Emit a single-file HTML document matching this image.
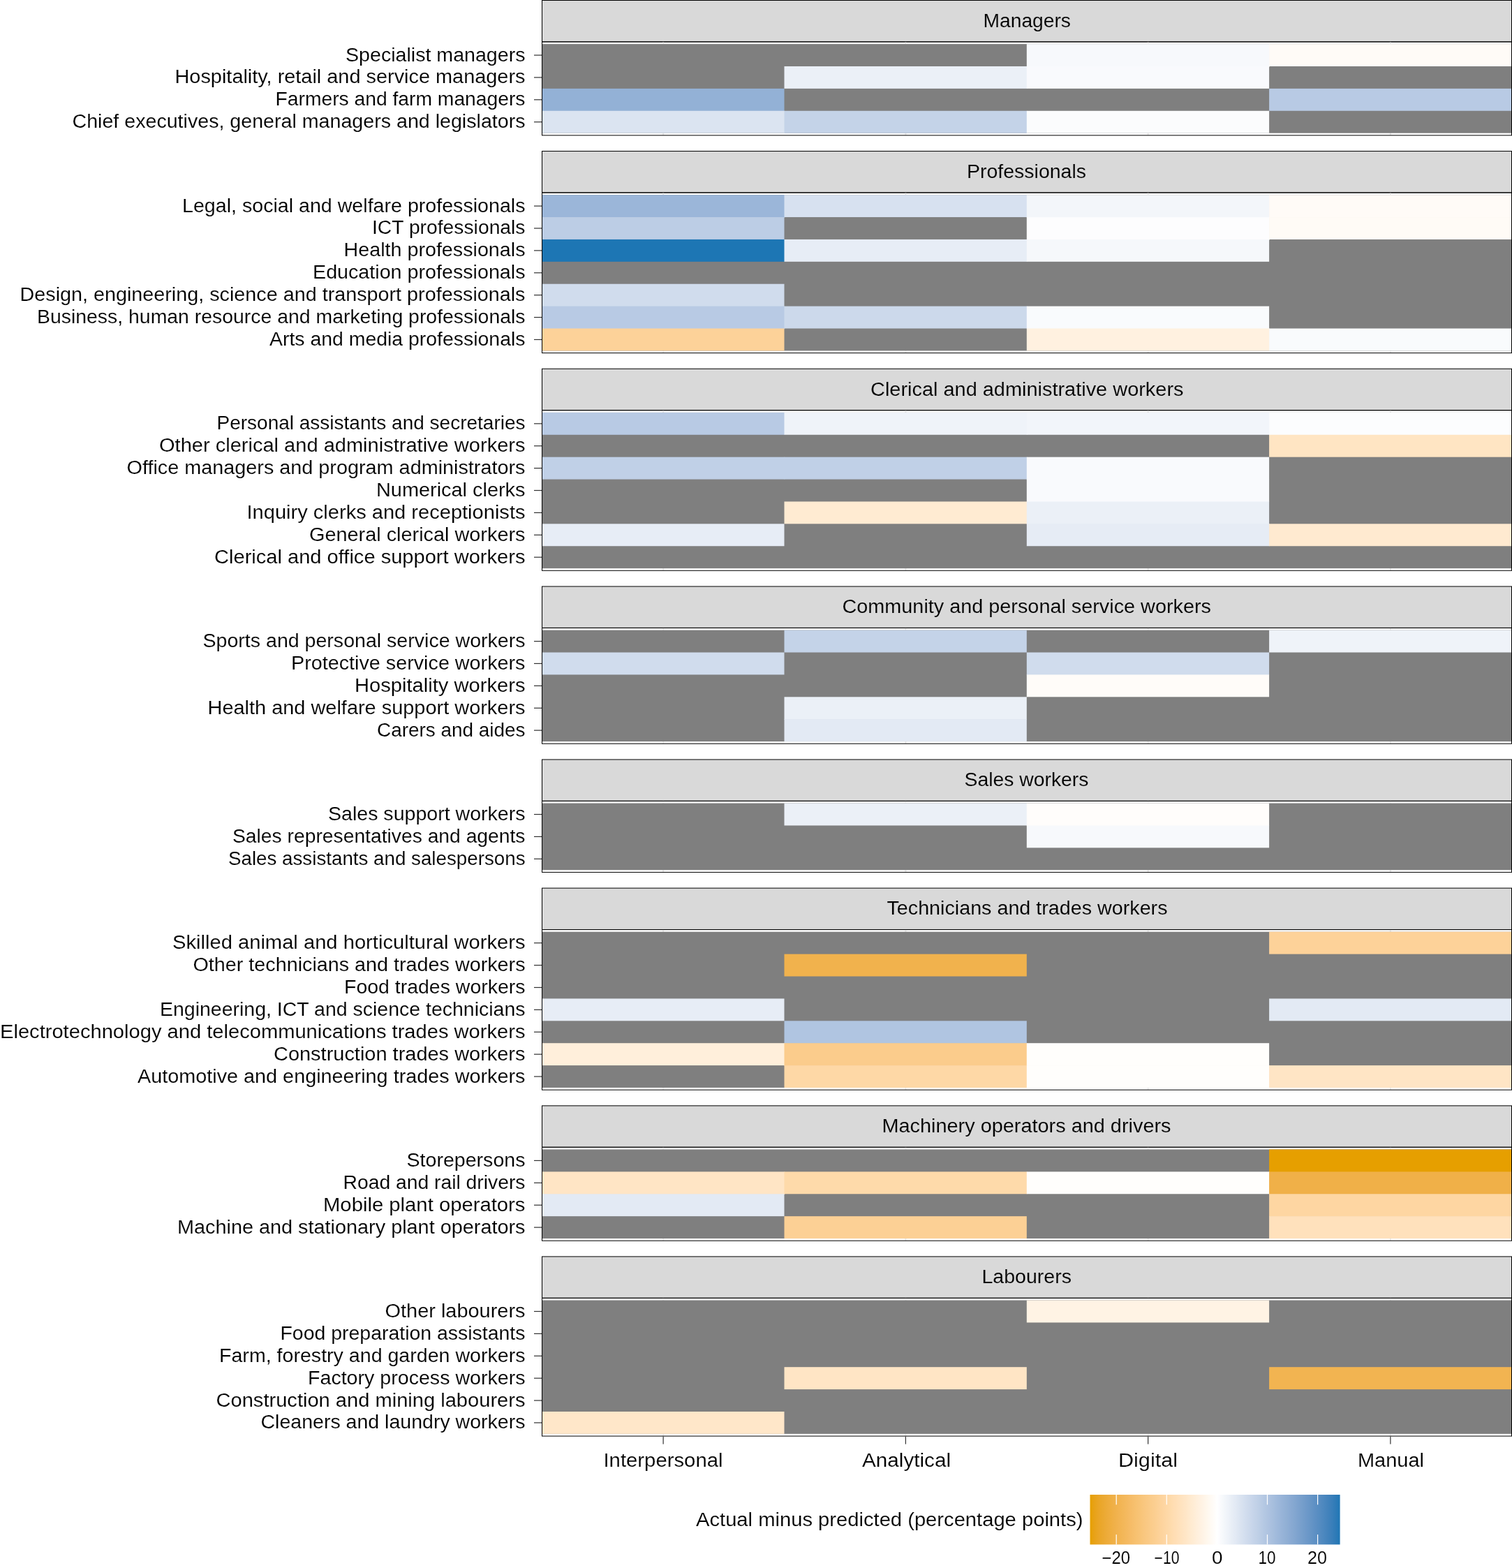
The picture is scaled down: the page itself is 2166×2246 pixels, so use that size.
<!DOCTYPE html>
<html lang="en"><head><meta charset="utf-8"><title>Actual minus predicted by occupation</title>
<style>html,body{margin:0;padding:0;background:#fff}body{width:2166px;height:2246px;overflow:hidden}svg{display:block}
text{font-family:"Liberation Sans",sans-serif;fill:#000}
</style></head><body>
<svg width="2166" height="2246" viewBox="0 0 2166 2246">
<defs><linearGradient id="g" x1="0" x2="1" y1="0" y2="0">
<stop offset="0.0000" stop-color="#E69F01"/>
<stop offset="0.0167" stop-color="#E8A217"/>
<stop offset="0.0333" stop-color="#EAA525"/>
<stop offset="0.0500" stop-color="#EBA82F"/>
<stop offset="0.0667" stop-color="#EDAB39"/>
<stop offset="0.0833" stop-color="#EFAE41"/>
<stop offset="0.1000" stop-color="#F0B14A"/>
<stop offset="0.1167" stop-color="#F2B452"/>
<stop offset="0.1333" stop-color="#F3B759"/>
<stop offset="0.1500" stop-color="#F5BA61"/>
<stop offset="0.1667" stop-color="#F6BD69"/>
<stop offset="0.1833" stop-color="#F7C170"/>
<stop offset="0.2000" stop-color="#F8C477"/>
<stop offset="0.2167" stop-color="#F9C77F"/>
<stop offset="0.2333" stop-color="#FACA86"/>
<stop offset="0.2500" stop-color="#FBCD8D"/>
<stop offset="0.2667" stop-color="#FCD094"/>
<stop offset="0.2833" stop-color="#FDD39C"/>
<stop offset="0.3000" stop-color="#FED6A3"/>
<stop offset="0.3167" stop-color="#FEDAAA"/>
<stop offset="0.3333" stop-color="#FFDDB2"/>
<stop offset="0.3500" stop-color="#FFE0B9"/>
<stop offset="0.3667" stop-color="#FFE3C0"/>
<stop offset="0.3833" stop-color="#FFE6C7"/>
<stop offset="0.4000" stop-color="#FFEACF"/>
<stop offset="0.4167" stop-color="#FFEDD6"/>
<stop offset="0.4333" stop-color="#FFF0DE"/>
<stop offset="0.4500" stop-color="#FFF3E5"/>
<stop offset="0.4667" stop-color="#FFF7EC"/>
<stop offset="0.4833" stop-color="#FFFAF4"/>
<stop offset="0.5000" stop-color="#FFFDFB"/>
<stop offset="0.5082" stop-color="#FFFFFF"/>
<stop offset="0.5167" stop-color="#FCFCFE"/>
<stop offset="0.5333" stop-color="#F5F8FB"/>
<stop offset="0.5500" stop-color="#EFF3F9"/>
<stop offset="0.5667" stop-color="#E8EEF6"/>
<stop offset="0.5833" stop-color="#E2E9F4"/>
<stop offset="0.6000" stop-color="#DBE4F1"/>
<stop offset="0.6167" stop-color="#D4DFEF"/>
<stop offset="0.6333" stop-color="#CEDAEC"/>
<stop offset="0.6500" stop-color="#C7D5EA"/>
<stop offset="0.6667" stop-color="#C1D1E7"/>
<stop offset="0.6833" stop-color="#BACCE5"/>
<stop offset="0.7000" stop-color="#B3C7E2"/>
<stop offset="0.7167" stop-color="#ADC2E0"/>
<stop offset="0.7333" stop-color="#A6BEDD"/>
<stop offset="0.7500" stop-color="#9FB9DB"/>
<stop offset="0.7667" stop-color="#98B4D8"/>
<stop offset="0.7833" stop-color="#92B0D5"/>
<stop offset="0.8000" stop-color="#8BABD3"/>
<stop offset="0.8167" stop-color="#84A7D0"/>
<stop offset="0.8333" stop-color="#7DA2CE"/>
<stop offset="0.8500" stop-color="#759ECB"/>
<stop offset="0.8667" stop-color="#6E99C9"/>
<stop offset="0.8833" stop-color="#6695C6"/>
<stop offset="0.9000" stop-color="#5E90C4"/>
<stop offset="0.9167" stop-color="#568CC1"/>
<stop offset="0.9333" stop-color="#4D88BF"/>
<stop offset="0.9500" stop-color="#4483BC"/>
<stop offset="0.9667" stop-color="#3A7FBA"/>
<stop offset="0.9833" stop-color="#2E7BB7"/>
<stop offset="1.0000" stop-color="#1E76B5"/>
</linearGradient></defs>
<rect x="0" y="0" width="2166" height="2246" fill="#fff"/>
<rect x="776.50" y="0.50" width="1389.00" height="59.40" fill="#D9D9D9" stroke="#000" stroke-width="1"/>
<text x="1408.50" y="38.80" font-size="27.00" textLength="125.50" lengthAdjust="spacingAndGlyphs" stroke="#D9D9D9" stroke-width="0.12">Managers</text>
<rect x="949.02" y="59.90" width="2.2" height="133.96" fill="#EBEBEB"/>
<rect x="1296.28" y="59.90" width="2.2" height="133.96" fill="#EBEBEB"/>
<rect x="1643.53" y="59.90" width="2.2" height="133.96" fill="#EBEBEB"/>
<rect x="1990.78" y="59.90" width="2.2" height="133.96" fill="#EBEBEB"/>
<g>
<rect x="776.20" y="63.10" width="1389.20" height="127.56" fill="#7F7F7F"/>
<rect x="1470.80" y="63.10" width="348.00" height="32.59" fill="#F7F9FC"/>
<rect x="1818.10" y="63.10" width="347.30" height="31.89" fill="#FFFBF7"/>
<rect x="1123.50" y="94.99" width="348.00" height="31.89" fill="#EBF0F7"/>
<rect x="1470.80" y="94.99" width="347.30" height="31.89" fill="#F9FAFD"/>
<rect x="776.20" y="126.88" width="347.30" height="32.59" fill="#93B1D6"/>
<rect x="1818.10" y="126.88" width="347.30" height="31.89" fill="#B8CAE4"/>
<rect x="776.20" y="158.77" width="348.00" height="31.89" fill="#DBE4F1"/>
<rect x="1123.50" y="158.77" width="348.00" height="31.89" fill="#C4D3E8"/>
<rect x="1470.80" y="158.77" width="347.30" height="31.89" fill="#FBFCFD"/>
</g>
<rect x="776.50" y="59.90" width="1389.00" height="133.96" fill="none" stroke="#000" stroke-width="1"/>
<rect x="765.00" y="78.45" width="11.00" height="1.2" fill="#333"/>
<text x="495.00" y="87.55" font-size="27.00" textLength="257.50" lengthAdjust="spacingAndGlyphs" stroke="#fff" stroke-width="0.12">Specialist managers</text>
<rect x="765.00" y="110.34" width="11.00" height="1.2" fill="#333"/>
<text x="250.50" y="119.44" font-size="27.00" textLength="502.00" lengthAdjust="spacingAndGlyphs" stroke="#fff" stroke-width="0.12">Hospitality, retail and service managers</text>
<rect x="765.00" y="142.22" width="11.00" height="1.2" fill="#333"/>
<text x="394.50" y="151.32" font-size="27.00" textLength="358.00" lengthAdjust="spacingAndGlyphs" stroke="#fff" stroke-width="0.12">Farmers and farm managers</text>
<rect x="765.00" y="174.12" width="11.00" height="1.2" fill="#333"/>
<text x="103.50" y="183.22" font-size="27.00" textLength="649.00" lengthAdjust="spacingAndGlyphs" stroke="#fff" stroke-width="0.12">Chief executives, general managers and legislators</text>
<rect x="776.50" y="216.56" width="1389.00" height="59.40" fill="#D9D9D9" stroke="#000" stroke-width="1"/>
<text x="1384.99" y="254.86" font-size="27.00" textLength="171.01" lengthAdjust="spacingAndGlyphs" stroke="#D9D9D9" stroke-width="0.12">Professionals</text>
<rect x="949.02" y="275.96" width="2.2" height="229.63" fill="#EBEBEB"/>
<rect x="1296.28" y="275.96" width="2.2" height="229.63" fill="#EBEBEB"/>
<rect x="1643.53" y="275.96" width="2.2" height="229.63" fill="#EBEBEB"/>
<rect x="1990.78" y="275.96" width="2.2" height="229.63" fill="#EBEBEB"/>
<g>
<rect x="776.20" y="279.16" width="1389.20" height="223.23" fill="#7F7F7F"/>
<rect x="776.20" y="279.16" width="348.00" height="32.59" fill="#9BB6D9"/>
<rect x="1123.50" y="279.16" width="348.00" height="31.89" fill="#D7E1F0"/>
<rect x="1470.80" y="279.16" width="348.00" height="32.59" fill="#F3F6FA"/>
<rect x="1818.10" y="279.16" width="347.30" height="32.59" fill="#FFFBF7"/>
<rect x="776.20" y="311.05" width="347.30" height="32.59" fill="#BCCDE5"/>
<rect x="1470.80" y="311.05" width="348.00" height="32.59" fill="#FDFDFE"/>
<rect x="1818.10" y="311.05" width="347.30" height="31.89" fill="#FFFBF6"/>
<rect x="776.20" y="342.94" width="348.00" height="31.89" fill="#1D76B4"/>
<rect x="1123.50" y="342.94" width="348.00" height="31.89" fill="#E7EDF6"/>
<rect x="1470.80" y="342.94" width="347.30" height="31.89" fill="#F6F8FB"/>
<rect x="776.20" y="406.72" width="347.30" height="32.59" fill="#D0DCED"/>
<rect x="776.20" y="438.61" width="348.00" height="32.59" fill="#B8CAE4"/>
<rect x="1123.50" y="438.61" width="348.00" height="31.89" fill="#CCD9EB"/>
<rect x="1470.80" y="438.61" width="347.30" height="32.59" fill="#F9FBFD"/>
<rect x="776.20" y="470.50" width="347.30" height="31.89" fill="#FDD299"/>
<rect x="1470.80" y="470.50" width="348.00" height="31.89" fill="#FFF1E0"/>
<rect x="1818.10" y="470.50" width="347.30" height="31.89" fill="#F9FBFD"/>
</g>
<rect x="776.50" y="275.96" width="1389.00" height="229.63" fill="none" stroke="#000" stroke-width="1"/>
<rect x="765.00" y="294.50" width="11.00" height="1.2" fill="#333"/>
<text x="261.00" y="303.60" font-size="27.00" textLength="491.50" lengthAdjust="spacingAndGlyphs" stroke="#fff" stroke-width="0.12">Legal, social and welfare professionals</text>
<rect x="765.00" y="326.39" width="11.00" height="1.2" fill="#333"/>
<text x="533.00" y="335.49" font-size="27.00" textLength="219.50" lengthAdjust="spacingAndGlyphs" stroke="#fff" stroke-width="0.12">ICT professionals</text>
<rect x="765.00" y="358.28" width="11.00" height="1.2" fill="#333"/>
<text x="492.50" y="367.38" font-size="27.00" textLength="260.00" lengthAdjust="spacingAndGlyphs" stroke="#fff" stroke-width="0.12">Health professionals</text>
<rect x="765.00" y="390.17" width="11.00" height="1.2" fill="#333"/>
<text x="448.00" y="399.27" font-size="27.00" textLength="304.50" lengthAdjust="spacingAndGlyphs" stroke="#fff" stroke-width="0.12">Education professionals</text>
<rect x="765.00" y="422.06" width="11.00" height="1.2" fill="#333"/>
<text x="28.50" y="431.16" font-size="27.00" textLength="724.00" lengthAdjust="spacingAndGlyphs" stroke="#fff" stroke-width="0.12">Design, engineering, science and transport professionals</text>
<rect x="765.00" y="453.95" width="11.00" height="1.2" fill="#333"/>
<text x="53.00" y="463.05" font-size="27.00" textLength="699.50" lengthAdjust="spacingAndGlyphs" stroke="#fff" stroke-width="0.12">Business, human resource and marketing professionals</text>
<rect x="765.00" y="485.84" width="11.00" height="1.2" fill="#333"/>
<text x="386.00" y="494.94" font-size="27.00" textLength="366.49" lengthAdjust="spacingAndGlyphs" stroke="#fff" stroke-width="0.12">Arts and media professionals</text>
<rect x="776.50" y="528.29" width="1389.00" height="59.40" fill="#D9D9D9" stroke="#000" stroke-width="1"/>
<text x="1247.00" y="566.59" font-size="27.00" textLength="448.50" lengthAdjust="spacingAndGlyphs" stroke="#D9D9D9" stroke-width="0.12">Clerical and administrative workers</text>
<rect x="949.02" y="587.69" width="2.2" height="229.63" fill="#EBEBEB"/>
<rect x="1296.28" y="587.69" width="2.2" height="229.63" fill="#EBEBEB"/>
<rect x="1643.53" y="587.69" width="2.2" height="229.63" fill="#EBEBEB"/>
<rect x="1990.78" y="587.69" width="2.2" height="229.63" fill="#EBEBEB"/>
<g>
<rect x="776.20" y="590.89" width="1389.20" height="223.23" fill="#7F7F7F"/>
<rect x="776.20" y="590.89" width="348.00" height="31.89" fill="#B8CAE4"/>
<rect x="1123.50" y="590.89" width="348.00" height="31.89" fill="#EFF3F9"/>
<rect x="1470.80" y="590.89" width="348.00" height="31.89" fill="#F2F5FA"/>
<rect x="1818.10" y="590.89" width="347.30" height="32.59" fill="#FCFDFE"/>
<rect x="1818.10" y="622.78" width="347.30" height="31.89" fill="#FFE5C3"/>
<rect x="776.20" y="654.67" width="348.00" height="31.89" fill="#C0D0E7"/>
<rect x="1123.50" y="654.67" width="348.00" height="31.89" fill="#C0D0E7"/>
<rect x="1470.80" y="654.67" width="347.30" height="32.59" fill="#F9FAFD"/>
<rect x="1470.80" y="686.56" width="347.30" height="32.59" fill="#F9FAFD"/>
<rect x="1123.50" y="718.45" width="348.00" height="31.89" fill="#FFEBD2"/>
<rect x="1470.80" y="718.45" width="347.30" height="32.59" fill="#EBF0F7"/>
<rect x="776.20" y="750.34" width="347.30" height="31.89" fill="#E7EDF6"/>
<rect x="1470.80" y="750.34" width="348.00" height="31.89" fill="#E6ECF5"/>
<rect x="1818.10" y="750.34" width="347.30" height="31.89" fill="#FFEAD0"/>
</g>
<rect x="776.50" y="587.69" width="1389.00" height="229.63" fill="none" stroke="#000" stroke-width="1"/>
<rect x="765.00" y="606.24" width="11.00" height="1.2" fill="#333"/>
<text x="310.50" y="615.34" font-size="27.00" textLength="442.00" lengthAdjust="spacingAndGlyphs" stroke="#fff" stroke-width="0.12">Personal assistants and secretaries</text>
<rect x="765.00" y="638.12" width="11.00" height="1.2" fill="#333"/>
<text x="228.00" y="647.23" font-size="27.00" textLength="524.50" lengthAdjust="spacingAndGlyphs" stroke="#fff" stroke-width="0.12">Other clerical and administrative workers</text>
<rect x="765.00" y="670.01" width="11.00" height="1.2" fill="#333"/>
<text x="181.50" y="679.12" font-size="27.00" textLength="571.00" lengthAdjust="spacingAndGlyphs" stroke="#fff" stroke-width="0.12">Office managers and program administrators</text>
<rect x="765.00" y="701.90" width="11.00" height="1.2" fill="#333"/>
<text x="539.01" y="711.00" font-size="27.00" textLength="213.49" lengthAdjust="spacingAndGlyphs" stroke="#fff" stroke-width="0.12">Numerical clerks</text>
<rect x="765.00" y="733.79" width="11.00" height="1.2" fill="#333"/>
<text x="353.50" y="742.89" font-size="27.00" textLength="399.00" lengthAdjust="spacingAndGlyphs" stroke="#fff" stroke-width="0.12">Inquiry clerks and receptionists</text>
<rect x="765.00" y="765.68" width="11.00" height="1.2" fill="#333"/>
<text x="443.00" y="774.78" font-size="27.00" textLength="309.50" lengthAdjust="spacingAndGlyphs" stroke="#fff" stroke-width="0.12">General clerical workers</text>
<rect x="765.00" y="797.57" width="11.00" height="1.2" fill="#333"/>
<text x="307.00" y="806.67" font-size="27.00" textLength="445.50" lengthAdjust="spacingAndGlyphs" stroke="#fff" stroke-width="0.12">Clerical and office support workers</text>
<rect x="776.50" y="840.02" width="1389.00" height="59.40" fill="#D9D9D9" stroke="#000" stroke-width="1"/>
<text x="1206.50" y="878.32" font-size="27.00" textLength="528.50" lengthAdjust="spacingAndGlyphs" stroke="#D9D9D9" stroke-width="0.12">Community and personal service workers</text>
<rect x="949.02" y="899.42" width="2.2" height="165.85" fill="#EBEBEB"/>
<rect x="1296.28" y="899.42" width="2.2" height="165.85" fill="#EBEBEB"/>
<rect x="1643.53" y="899.42" width="2.2" height="165.85" fill="#EBEBEB"/>
<rect x="1990.78" y="899.42" width="2.2" height="165.85" fill="#EBEBEB"/>
<g>
<rect x="776.20" y="902.62" width="1389.20" height="159.45" fill="#7F7F7F"/>
<rect x="1123.50" y="902.62" width="347.30" height="31.89" fill="#C4D3E8"/>
<rect x="1818.10" y="902.62" width="347.30" height="31.89" fill="#EFF3F9"/>
<rect x="776.20" y="934.51" width="347.30" height="31.89" fill="#D0DCED"/>
<rect x="1470.80" y="934.51" width="347.30" height="32.59" fill="#D0DCED"/>
<rect x="1470.80" y="966.40" width="347.30" height="31.89" fill="#FFFCF9"/>
<rect x="1123.50" y="998.29" width="347.30" height="32.59" fill="#EBF0F7"/>
<rect x="1123.50" y="1030.18" width="347.30" height="31.89" fill="#E3EAF4"/>
</g>
<rect x="776.50" y="899.42" width="1389.00" height="165.85" fill="none" stroke="#000" stroke-width="1"/>
<rect x="765.00" y="917.97" width="11.00" height="1.2" fill="#333"/>
<text x="290.50" y="927.07" font-size="27.00" textLength="462.00" lengthAdjust="spacingAndGlyphs" stroke="#fff" stroke-width="0.12">Sports and personal service workers</text>
<rect x="765.00" y="949.86" width="11.00" height="1.2" fill="#333"/>
<text x="417.00" y="958.96" font-size="27.00" textLength="335.50" lengthAdjust="spacingAndGlyphs" stroke="#fff" stroke-width="0.12">Protective service workers</text>
<rect x="765.00" y="981.75" width="11.00" height="1.2" fill="#333"/>
<text x="508.00" y="990.85" font-size="27.00" textLength="244.50" lengthAdjust="spacingAndGlyphs" stroke="#fff" stroke-width="0.12">Hospitality workers</text>
<rect x="765.00" y="1013.64" width="11.00" height="1.2" fill="#333"/>
<text x="297.50" y="1022.74" font-size="27.00" textLength="455.00" lengthAdjust="spacingAndGlyphs" stroke="#fff" stroke-width="0.12">Health and welfare support workers</text>
<rect x="765.00" y="1045.53" width="11.00" height="1.2" fill="#333"/>
<text x="540.00" y="1054.62" font-size="27.00" textLength="212.50" lengthAdjust="spacingAndGlyphs" stroke="#fff" stroke-width="0.12">Carers and aides</text>
<rect x="776.50" y="1087.97" width="1389.00" height="59.40" fill="#D9D9D9" stroke="#000" stroke-width="1"/>
<text x="1381.51" y="1126.27" font-size="27.00" textLength="177.99" lengthAdjust="spacingAndGlyphs" stroke="#D9D9D9" stroke-width="0.12">Sales workers</text>
<rect x="949.02" y="1147.37" width="2.2" height="102.07" fill="#EBEBEB"/>
<rect x="1296.28" y="1147.37" width="2.2" height="102.07" fill="#EBEBEB"/>
<rect x="1643.53" y="1147.37" width="2.2" height="102.07" fill="#EBEBEB"/>
<rect x="1990.78" y="1147.37" width="2.2" height="102.07" fill="#EBEBEB"/>
<g>
<rect x="776.20" y="1150.57" width="1389.20" height="95.67" fill="#7F7F7F"/>
<rect x="1123.50" y="1150.57" width="348.00" height="31.89" fill="#EBF0F7"/>
<rect x="1470.80" y="1150.57" width="347.30" height="32.59" fill="#FFFDFB"/>
<rect x="1470.80" y="1182.46" width="347.30" height="31.89" fill="#F7F9FC"/>
</g>
<rect x="776.50" y="1147.37" width="1389.00" height="102.07" fill="none" stroke="#000" stroke-width="1"/>
<rect x="765.00" y="1165.92" width="11.00" height="1.2" fill="#333"/>
<text x="470.00" y="1175.02" font-size="27.00" textLength="282.49" lengthAdjust="spacingAndGlyphs" stroke="#fff" stroke-width="0.12">Sales support workers</text>
<rect x="765.00" y="1197.81" width="11.00" height="1.2" fill="#333"/>
<text x="333.00" y="1206.91" font-size="27.00" textLength="419.50" lengthAdjust="spacingAndGlyphs" stroke="#fff" stroke-width="0.12">Sales representatives and agents</text>
<rect x="765.00" y="1229.70" width="11.00" height="1.2" fill="#333"/>
<text x="327.00" y="1238.80" font-size="27.00" textLength="425.50" lengthAdjust="spacingAndGlyphs" stroke="#fff" stroke-width="0.12">Sales assistants and salespersons</text>
<rect x="776.50" y="1272.14" width="1389.00" height="59.40" fill="#D9D9D9" stroke="#000" stroke-width="1"/>
<text x="1270.50" y="1310.44" font-size="27.00" textLength="402.00" lengthAdjust="spacingAndGlyphs" stroke="#D9D9D9" stroke-width="0.12">Technicians and trades workers</text>
<rect x="949.02" y="1331.54" width="2.2" height="229.63" fill="#EBEBEB"/>
<rect x="1296.28" y="1331.54" width="2.2" height="229.63" fill="#EBEBEB"/>
<rect x="1643.53" y="1331.54" width="2.2" height="229.63" fill="#EBEBEB"/>
<rect x="1990.78" y="1331.54" width="2.2" height="229.63" fill="#EBEBEB"/>
<g>
<rect x="776.20" y="1334.74" width="1389.20" height="223.23" fill="#7F7F7F"/>
<rect x="1818.10" y="1334.74" width="347.30" height="31.89" fill="#FDD299"/>
<rect x="1123.50" y="1366.63" width="347.30" height="31.89" fill="#F1B24D"/>
<rect x="776.20" y="1430.41" width="347.30" height="31.89" fill="#E7EDF6"/>
<rect x="1818.10" y="1430.41" width="347.30" height="31.89" fill="#E3EAF4"/>
<rect x="1123.50" y="1462.30" width="347.30" height="32.59" fill="#B0C5E1"/>
<rect x="776.20" y="1494.19" width="348.00" height="31.89" fill="#FFEFDB"/>
<rect x="1123.50" y="1494.19" width="348.00" height="32.59" fill="#FBCC8C"/>
<rect x="1470.80" y="1494.19" width="347.30" height="32.59" fill="#FFFEFC"/>
<rect x="1123.50" y="1526.08" width="348.00" height="31.89" fill="#FED8A6"/>
<rect x="1470.80" y="1526.08" width="348.00" height="31.89" fill="#FFFEFC"/>
<rect x="1818.10" y="1526.08" width="347.30" height="31.89" fill="#FFE5C5"/>
</g>
<rect x="776.50" y="1331.54" width="1389.00" height="229.63" fill="none" stroke="#000" stroke-width="1"/>
<rect x="765.00" y="1350.09" width="11.00" height="1.2" fill="#333"/>
<text x="247.00" y="1359.19" font-size="27.00" textLength="505.50" lengthAdjust="spacingAndGlyphs" stroke="#fff" stroke-width="0.12">Skilled animal and horticultural workers</text>
<rect x="765.00" y="1381.98" width="11.00" height="1.2" fill="#333"/>
<text x="276.50" y="1391.08" font-size="27.00" textLength="476.00" lengthAdjust="spacingAndGlyphs" stroke="#fff" stroke-width="0.12">Other technicians and trades workers</text>
<rect x="765.00" y="1413.87" width="11.00" height="1.2" fill="#333"/>
<text x="493.00" y="1422.97" font-size="27.00" textLength="259.50" lengthAdjust="spacingAndGlyphs" stroke="#fff" stroke-width="0.12">Food trades workers</text>
<rect x="765.00" y="1445.76" width="11.00" height="1.2" fill="#333"/>
<text x="229.00" y="1454.86" font-size="27.00" textLength="523.50" lengthAdjust="spacingAndGlyphs" stroke="#fff" stroke-width="0.12">Engineering, ICT and science technicians</text>
<rect x="765.00" y="1477.65" width="11.00" height="1.2" fill="#333"/>
<text x="0.00" y="1486.75" font-size="27.00" textLength="752.50" lengthAdjust="spacingAndGlyphs" stroke="#fff" stroke-width="0.12">Electrotechnology and telecommunications trades workers</text>
<rect x="765.00" y="1509.54" width="11.00" height="1.2" fill="#333"/>
<text x="392.00" y="1518.64" font-size="27.00" textLength="360.50" lengthAdjust="spacingAndGlyphs" stroke="#fff" stroke-width="0.12">Construction trades workers</text>
<rect x="765.00" y="1541.43" width="11.00" height="1.2" fill="#333"/>
<text x="197.00" y="1550.53" font-size="27.00" textLength="555.50" lengthAdjust="spacingAndGlyphs" stroke="#fff" stroke-width="0.12">Automotive and engineering trades workers</text>
<rect x="776.50" y="1583.87" width="1389.00" height="59.40" fill="#D9D9D9" stroke="#000" stroke-width="1"/>
<text x="1263.50" y="1622.17" font-size="27.00" textLength="414.01" lengthAdjust="spacingAndGlyphs" stroke="#D9D9D9" stroke-width="0.12">Machinery operators and drivers</text>
<rect x="949.02" y="1643.27" width="2.2" height="133.96" fill="#EBEBEB"/>
<rect x="1296.28" y="1643.27" width="2.2" height="133.96" fill="#EBEBEB"/>
<rect x="1643.53" y="1643.27" width="2.2" height="133.96" fill="#EBEBEB"/>
<rect x="1990.78" y="1643.27" width="2.2" height="133.96" fill="#EBEBEB"/>
<g>
<rect x="776.20" y="1646.47" width="1389.20" height="127.56" fill="#7F7F7F"/>
<rect x="1818.10" y="1646.47" width="347.30" height="32.59" fill="#E69F00"/>
<rect x="776.20" y="1678.36" width="348.00" height="32.59" fill="#FFE5C5"/>
<rect x="1123.50" y="1678.36" width="348.00" height="31.89" fill="#FEDAAA"/>
<rect x="1470.80" y="1678.36" width="348.00" height="31.89" fill="#FFFEFC"/>
<rect x="1818.10" y="1678.36" width="347.30" height="32.59" fill="#F0B048"/>
<rect x="776.20" y="1710.25" width="347.30" height="31.89" fill="#E3EAF4"/>
<rect x="1818.10" y="1710.25" width="347.30" height="32.59" fill="#FED6A2"/>
<rect x="1123.50" y="1742.14" width="347.30" height="31.89" fill="#FCD095"/>
<rect x="1818.10" y="1742.14" width="347.30" height="31.89" fill="#FFE1BC"/>
</g>
<rect x="776.50" y="1643.27" width="1389.00" height="133.96" fill="none" stroke="#000" stroke-width="1"/>
<rect x="765.00" y="1661.82" width="11.00" height="1.2" fill="#333"/>
<text x="582.51" y="1670.92" font-size="27.00" textLength="169.99" lengthAdjust="spacingAndGlyphs" stroke="#fff" stroke-width="0.12">Storepersons</text>
<rect x="765.00" y="1693.71" width="11.00" height="1.2" fill="#333"/>
<text x="491.51" y="1702.81" font-size="27.00" textLength="260.99" lengthAdjust="spacingAndGlyphs" stroke="#fff" stroke-width="0.12">Road and rail drivers</text>
<rect x="765.00" y="1725.60" width="11.00" height="1.2" fill="#333"/>
<text x="463.00" y="1734.70" font-size="27.00" textLength="289.50" lengthAdjust="spacingAndGlyphs" stroke="#fff" stroke-width="0.12">Mobile plant operators</text>
<rect x="765.00" y="1757.49" width="11.00" height="1.2" fill="#333"/>
<text x="254.00" y="1766.59" font-size="27.00" textLength="498.50" lengthAdjust="spacingAndGlyphs" stroke="#fff" stroke-width="0.12">Machine and stationary plant operators</text>
<rect x="776.50" y="1799.93" width="1389.00" height="59.40" fill="#D9D9D9" stroke="#000" stroke-width="1"/>
<text x="1406.51" y="1838.23" font-size="27.00" textLength="128.49" lengthAdjust="spacingAndGlyphs" stroke="#D9D9D9" stroke-width="0.12">Labourers</text>
<rect x="949.02" y="1859.33" width="2.2" height="197.74" fill="#EBEBEB"/>
<rect x="1296.28" y="1859.33" width="2.2" height="197.74" fill="#EBEBEB"/>
<rect x="1643.53" y="1859.33" width="2.2" height="197.74" fill="#EBEBEB"/>
<rect x="1990.78" y="1859.33" width="2.2" height="197.74" fill="#EBEBEB"/>
<g>
<rect x="776.20" y="1862.53" width="1389.20" height="191.34" fill="#7F7F7F"/>
<rect x="1470.80" y="1862.53" width="347.30" height="31.89" fill="#FFF3E4"/>
<rect x="1123.50" y="1958.20" width="347.30" height="31.89" fill="#FFE5C5"/>
<rect x="1818.10" y="1958.20" width="347.30" height="31.89" fill="#F2B451"/>
<rect x="776.20" y="2021.98" width="347.30" height="31.89" fill="#FFE7C9"/>
</g>
<rect x="776.50" y="1859.33" width="1389.00" height="197.74" fill="none" stroke="#000" stroke-width="1"/>
<rect x="765.00" y="1877.88" width="11.00" height="1.2" fill="#333"/>
<text x="551.50" y="1886.98" font-size="27.00" textLength="200.99" lengthAdjust="spacingAndGlyphs" stroke="#fff" stroke-width="0.12">Other labourers</text>
<rect x="765.00" y="1909.77" width="11.00" height="1.2" fill="#333"/>
<text x="401.50" y="1918.87" font-size="27.00" textLength="351.00" lengthAdjust="spacingAndGlyphs" stroke="#fff" stroke-width="0.12">Food preparation assistants</text>
<rect x="765.00" y="1941.66" width="11.00" height="1.2" fill="#333"/>
<text x="314.00" y="1950.76" font-size="27.00" textLength="438.50" lengthAdjust="spacingAndGlyphs" stroke="#fff" stroke-width="0.12">Farm, forestry and garden workers</text>
<rect x="765.00" y="1973.55" width="11.00" height="1.2" fill="#333"/>
<text x="441.00" y="1982.65" font-size="27.00" textLength="311.50" lengthAdjust="spacingAndGlyphs" stroke="#fff" stroke-width="0.12">Factory process workers</text>
<rect x="765.00" y="2005.44" width="11.00" height="1.2" fill="#333"/>
<text x="309.50" y="2014.54" font-size="27.00" textLength="443.00" lengthAdjust="spacingAndGlyphs" stroke="#fff" stroke-width="0.12">Construction and mining labourers</text>
<rect x="765.00" y="2037.33" width="11.00" height="1.2" fill="#333"/>
<text x="373.50" y="2046.43" font-size="27.00" textLength="379.00" lengthAdjust="spacingAndGlyphs" stroke="#fff" stroke-width="0.12">Cleaners and laundry workers</text>
<rect x="949.52" y="2057.57" width="1.2" height="11.00" fill="#333"/>
<text x="864.48" y="2101.40" font-size="27.00" textLength="171.02" lengthAdjust="spacingAndGlyphs" stroke="#fff" stroke-width="0.12">Interpersonal</text>
<rect x="1296.78" y="2057.57" width="1.2" height="11.00" fill="#333"/>
<text x="1235.00" y="2101.40" font-size="27.00" textLength="127.00" lengthAdjust="spacingAndGlyphs" stroke="#fff" stroke-width="0.12">Analytical</text>
<rect x="1644.03" y="2057.57" width="1.2" height="11.00" fill="#333"/>
<text x="1601.97" y="2101.40" font-size="27.00" textLength="85.06" lengthAdjust="spacingAndGlyphs" stroke="#fff" stroke-width="0.12">Digital</text>
<rect x="1991.28" y="2057.57" width="1.2" height="11.00" fill="#333"/>
<text x="1944.98" y="2101.40" font-size="27.00" textLength="95.04" lengthAdjust="spacingAndGlyphs" stroke="#fff" stroke-width="0.12">Manual</text>
<rect x="1561.50" y="2141.00" width="358.10" height="71.40" fill="url(#g)"/>
<rect x="1598.60" y="2141.00" width="1.2" height="14.3" fill="#fff"/>
<rect x="1598.60" y="2198.10" width="1.2" height="14.3" fill="#fff"/>
<text x="1578.52" y="2240.30" font-size="25.00" textLength="40.46" lengthAdjust="spacingAndGlyphs" stroke="#fff" stroke-width="0.12">−20</text>
<rect x="1670.70" y="2141.00" width="1.2" height="14.3" fill="#fff"/>
<rect x="1670.70" y="2198.10" width="1.2" height="14.3" fill="#fff"/>
<text x="1653.54" y="2240.30" font-size="25.00" textLength="35.92" lengthAdjust="spacingAndGlyphs" stroke="#fff" stroke-width="0.12">−10</text>
<rect x="1742.80" y="2141.00" width="1.2" height="14.3" fill="#fff"/>
<rect x="1742.80" y="2198.10" width="1.2" height="14.3" fill="#fff"/>
<text x="1736.01" y="2240.30" font-size="25.00" textLength="15.51" lengthAdjust="spacingAndGlyphs" stroke="#fff" stroke-width="0.12">0</text>
<rect x="1814.90" y="2141.00" width="1.2" height="14.3" fill="#fff"/>
<rect x="1814.90" y="2198.10" width="1.2" height="14.3" fill="#fff"/>
<text x="1802.50" y="2240.30" font-size="25.00" textLength="24.98" lengthAdjust="spacingAndGlyphs" stroke="#fff" stroke-width="0.12">10</text>
<rect x="1887.00" y="2141.00" width="1.2" height="14.3" fill="#fff"/>
<rect x="1887.00" y="2198.10" width="1.2" height="14.3" fill="#fff"/>
<text x="1873.05" y="2240.30" font-size="25.00" textLength="27.92" lengthAdjust="spacingAndGlyphs" stroke="#fff" stroke-width="0.12">20</text>
<text x="997.00" y="2185.60" font-size="27.00" textLength="554.50" lengthAdjust="spacingAndGlyphs" stroke="#fff" stroke-width="0.12">Actual minus predicted (percentage points)</text>
</svg></body></html>
